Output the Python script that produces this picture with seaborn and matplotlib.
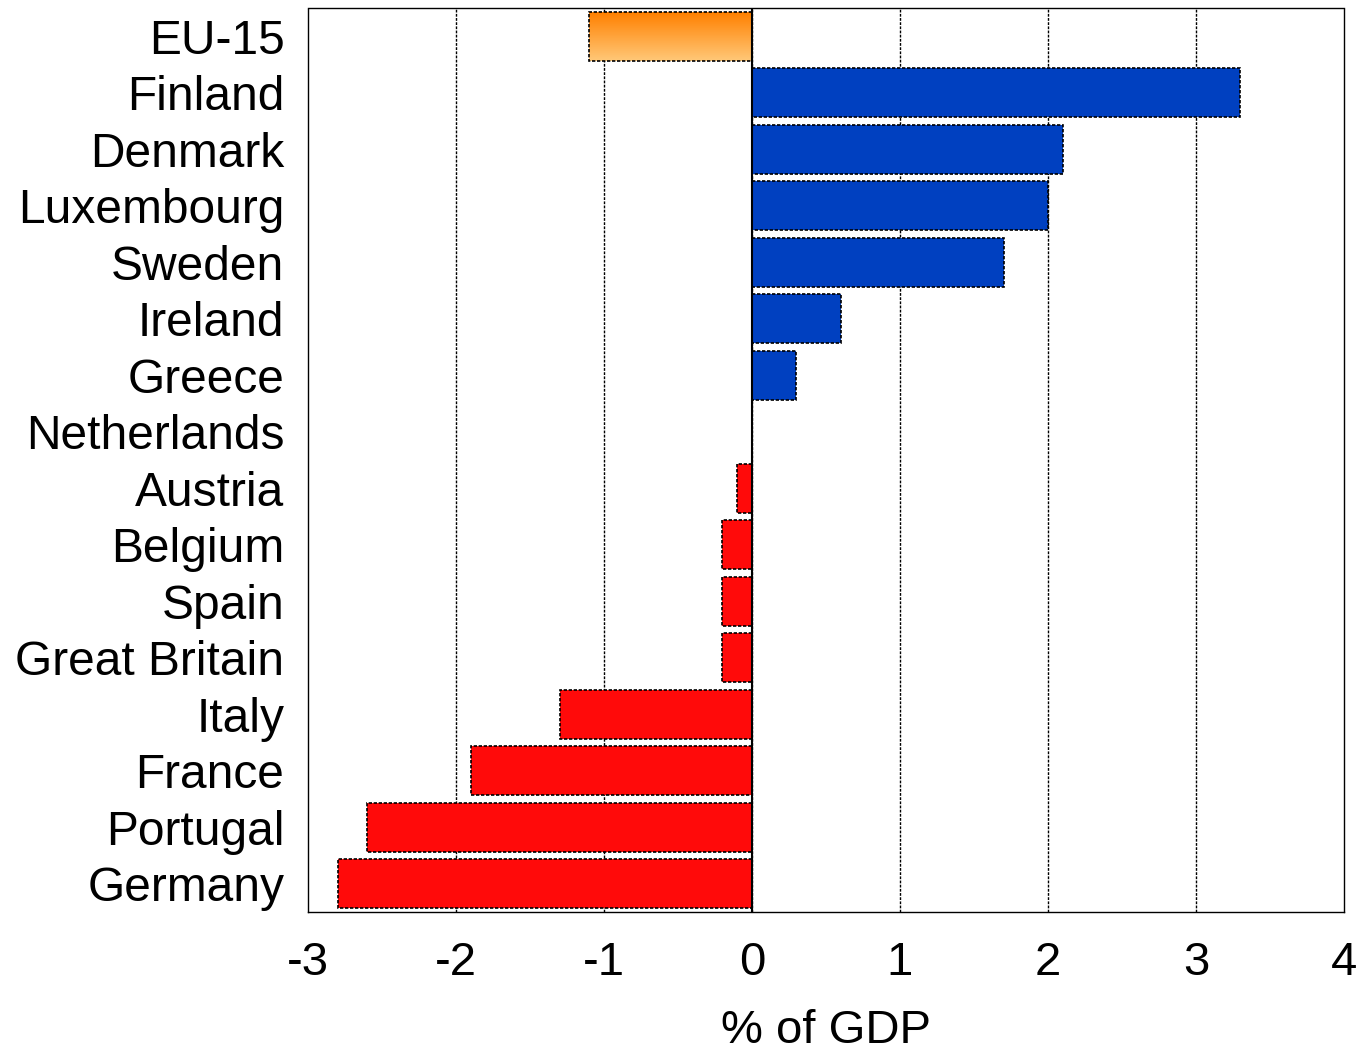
import matplotlib
matplotlib.use("Agg")
import matplotlib.pyplot as plt
import numpy as np
import pandas as pd
import seaborn as sns
from matplotlib.colors import LinearSegmentedColormap

countries = ["EU-15", "Finland", "Denmark", "Luxembourg", "Sweden", "Ireland", "Greece",
             "Netherlands", "Austria", "Belgium", "Spain", "Great Britain", "Italy",
             "France", "Portugal", "Germany"]
values = [-1.1, 3.3, 2.1, 2.0, 1.7, 0.6, 0.3, 0.0, -0.1, -0.2, -0.2, -0.2, -1.3, -1.9, -2.6, -2.8]
xticks = [-3, -2, -1, 0, 1, 2, 3, 4]

def color_for(c, v):
    if c == "EU-15":
        return "#FF9A30"
    return "#0040C0" if v > 0 else "#FF0A0A"

df = pd.DataFrame({"country": countries, "value": values})
palette = {c: color_for(c, v) for c, v in zip(countries, values)}

sns.set_style("white")
plt.rcParams["font.family"] = ["Liberation Sans", "DejaVu Sans"]
plt.rcParams["text.color"] = "black"
plt.rcParams["xtick.color"] = "black"
plt.rcParams["ytick.color"] = "black"
plt.rcParams["axes.labelcolor"] = "black"

fig = plt.figure(figsize=(13.59, 10.56), dpi=100)
ax = fig.add_axes([308/1359, 1 - 912/1056, (1344-308)/1359, (912-8)/1056])

for t in xticks[1:-1]:
    ax.axvline(t, color="black", lw=1.0, ls=(0, (2, 1)), zorder=0)

sns.barplot(data=df, y="country", x="value", hue="country", palette=palette,
            order=countries, hue_order=countries, legend=False, width=0.86,
            saturation=1, edgecolor="black", linewidth=1.2, linestyle=(0, (2, 1)),
            ax=ax, zorder=2)

# gradient fill for the EU-15 bar (uses the bar's own geometry)
for p in ax.patches:
    h = p.get_height()
    if abs(p.get_y() + h/2 - 0) < 1e-6:
        x0, y0, w = p.get_x(), p.get_y(), p.get_width()
        grad = np.linspace(0, 1, 100).reshape(-1, 1)
        cmap = LinearSegmentedColormap.from_list("og", ["#FF8000", "#FFC878"])
        xs = sorted([x0, x0 + w])
        im = ax.imshow(grad, cmap=cmap, aspect="auto",
                       extent=[xs[0], xs[1], y0 + h, y0], zorder=2.5)
        im.set_clip_path(p)
        p.set_facecolor("none")
        p.set_zorder(3)

ax.axvline(0, color="black", lw=1.5, zorder=4)

ax.set_xlim(-3, 4)
ax.set_ylim(len(countries) - 0.5, -0.5)
ax.set_xticks(xticks)
ax.set_xticklabels([str(t) for t in xticks], fontsize=34)
ax.tick_params(axis="y", labelsize=34.5, length=0, pad=17)
ax.tick_params(axis="x", length=0, pad=21)
ax.set_xlabel("% of GDP", fontsize=34, labelpad=17)
ax.set_ylabel("")
for s in ax.spines.values():
    s.set_visible(True)
    s.set_color("black")
    s.set_linewidth(1.0)
    s.set_linestyle((0, (2, 1)))

fig.savefig("out.png", dpi=100)
